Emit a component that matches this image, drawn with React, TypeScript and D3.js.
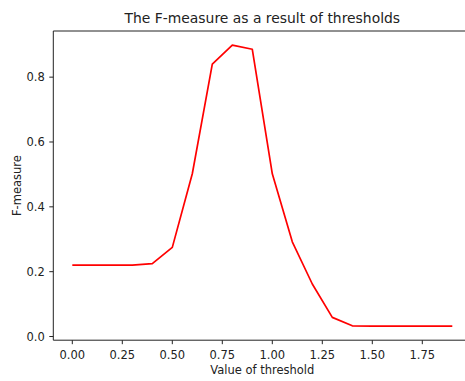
import React from "react";
import * as d3 from "d3";

const thresholds = [0.0, 0.1, 0.2, 0.3, 0.4, 0.5, 0.6, 0.7, 0.8, 0.9, 1.0, 1.1, 1.2, 1.3, 1.4, 1.5, 1.6, 1.7, 1.8, 1.9];
const fMeasure = [0.22, 0.22, 0.22, 0.22, 0.225, 0.275, 0.502, 0.84, 0.899, 0.886, 0.502, 0.292, 0.162, 0.059, 0.033, 0.032, 0.032, 0.032, 0.032, 0.032];
const xTicks = [0, 0.25, 0.5, 0.75, 1.0, 1.25, 1.5, 1.75];
const yTicks = [0, 0.2, 0.4, 0.6, 0.8];

const W = 465;
const H = 381;
const left = 53.3;
const right = 471.3;
const top = 31;
const bottom = 340.2;

export default function App() {
  const xMin = d3.min(thresholds)!;
  const xMax = d3.max(thresholds)!;
  const yMin = d3.min(fMeasure)!;
  const yMax = d3.max(fMeasure)!;
  const xm = (xMax - xMin) * 0.05;
  const ym = (yMax - yMin) * 0.05;
  const x = d3.scaleLinear().domain([xMin - xm, xMax + xm]).range([left, right]);
  const y = d3.scaleLinear().domain([yMin - ym, yMax + ym]).range([bottom, top]);
  const line = d3
    .line<number>()
    .x((_, i) => x(thresholds[i]))
    .y((d) => y(d));
  const font = "DejaVu Sans, sans-serif";
  const fs = 11.5;
  const tc = "#222";
  return (
    <svg width={W} height={H} style={{ position: "absolute", left: 0, top: 0 }}>
      <rect width={W} height={H} fill="#fff" />
      <path d={line(fMeasure) || ""} fill="none" stroke="#ff0000" strokeWidth={1.7} strokeLinejoin="round" />
      <line x1={left} x2={left} y1={top} y2={bottom} stroke="#222" strokeWidth={1} />
      <line x1={left} x2={right} y1={bottom} y2={bottom} stroke="#222" strokeWidth={1} />
      <line x1={left} x2={right} y1={top} y2={top} stroke="#222" strokeWidth={1} />
      <line x1={right} x2={right} y1={top} y2={bottom} stroke="#222" strokeWidth={1} />
      {xTicks.map((t) => (
        <g key={"x" + t}>
          <line x1={x(t)} x2={x(t)} y1={bottom} y2={bottom + 4} stroke="#222" strokeWidth={1} />
          <text x={x(t)} y={bottom + 18.5} fontSize={fs} fontFamily={font} textAnchor="middle" fill={tc}>
            {t.toFixed(2)}
          </text>
        </g>
      ))}
      {yTicks.map((t) => (
        <g key={"y" + t}>
          <line x1={left - 4} x2={left} y1={y(t)} y2={y(t)} stroke="#222" strokeWidth={1} />
          <text x={left - 8.5} y={y(t)} dy="0.36em" fontSize={fs} fontFamily={font} textAnchor="end" fill={tc}>
            {t.toFixed(1)}
          </text>
        </g>
      ))}
      <text x={(left + right) / 2} y={22.5} fontSize={13.9} fontFamily={font} textAnchor="middle" fill={tc}>
        The F-measure as a result of thresholds
      </text>
      <text x={(left + right) / 2} y={373.5} fontSize={fs} fontFamily={font} textAnchor="middle" fill={tc}>
        Value of threshold
      </text>
      <text
        transform={`translate(${20.5},${(top + bottom) / 2}) rotate(-90)`}
        fontSize={fs}
        fontFamily={font}
        textAnchor="middle"
        fill={tc}
      >
        F-measure
      </text>
    </svg>
  );
}
